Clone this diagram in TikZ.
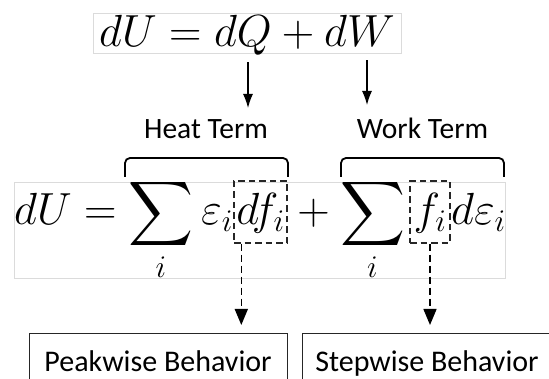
\RequirePackage{fix-cm}
\documentclass[tikz,border=0pt]{standalone}
\usepackage{amsmath}
\DeclareFontShape{OMX}{cmex}{m}{n}{<->cmex10}{}
\usepackage[no-math]{fontspec}
\setmainfont{Carlito}
\usetikzlibrary{arrows.meta}
\begin{document}
\begin{tikzpicture}[x=1pt,y=-1pt,
  eq/.style={font=\fontsize{45}{54}\selectfont, inner sep=0pt},
  lbl/.style={font=\fontsize{29.5}{34}\selectfont, inner sep=0pt},
  graybox/.style={draw=black!14, line width=0.6pt},
  dbox/.style={draw=black!85, line width=1.4pt, dash pattern=on 6.5pt off 4pt, inner sep=0pt, text height=44pt, text depth=18pt},
  bracketline/.style={line width=1.8pt, rounded corners=5pt},
  arr/.style={line width=1.2pt, -{Latex[length=14pt,width=10pt]}},
  darr/.style={line width=1.5pt, dash pattern=on 7pt off 4pt, -{Triangle[length=16pt,width=13pt]}},
  outbox/.style={draw=black!85, line width=0.9pt, inner sep=0pt, font=\fontsize{30}{34}\selectfont, text height=38pt, text depth=22pt}
]
\useasboundingbox (0,0) rectangle (549,379);
\clip (0,0) rectangle (549,379);

% top equation
\node[eq, graybox, minimum width=308pt, text height=34pt, text depth=6pt, anchor=base] (topeq) at (247,47) {$dU = dQ + dW$};

% labels
\node[lbl, anchor=base] (heat) at (206,139) {Heat Term};
\node[lbl, anchor=base] (work) at (422.5,139) {Work Term};

% solid arrows
\coordinate (q1) at (248,108);
\coordinate (q2) at (367,105);
\draw[arr, shorten <=9pt] (topeq.south -| q1) -- (q1);
\draw[arr, shorten <=7pt] (topeq.south -| q2) -- (q2);

% second equation frame
\node[graybox, minimum width=491pt, minimum height=96pt, inner sep=0pt] (eqbox) at (259.5,230) {};

% brackets
\draw[bracketline] (125,177) -- (125,158) -- (288,158) -- (288,177);
\draw[bracketline] (341,177) -- (341,158) -- (504,158) -- (504,177);

% second equation
\node[eq, anchor=base west] (lhs) at (14,225) {$dU =$};
\node[eq, anchor=base] (sumA) at (161,225) {$\displaystyle\sum_i$};
\node[eq, anchor=base west] (epsA) at (201,225) {$\varepsilon_i$};
\node[eq, dbox, minimum width=53pt, anchor=base] (dfbox) at (260.5,225) {$df_i$};
\node[eq, anchor=base] (plus) at (313.5,225) {$+$};
\node[eq, anchor=base] (sumB) at (372.5,225) {$\displaystyle\sum_i$};
\node[eq, dbox, minimum width=40pt, anchor=base] (fbox) at (430,225) {$f_i$};
\node[eq, anchor=base west] (depsB) at (451,225) {$d\varepsilon_i$};

% bottom boxes
\node[outbox, minimum width=258pt, anchor=north] (peak) at (158,333) {Peakwise Behavior};
\node[outbox, minimum width=250pt, anchor=north] (step) at (427,333) {Stepwise Behavior};

% dashed arrows
\coordinate (d1) at ([xshift=8pt]dfbox.south west);
\draw[darr, shorten >=8pt] (d1) -- (d1 |- peak.north);
\draw[darr, shorten >=8pt] (fbox.south) -- (fbox.south |- step.north);
\end{tikzpicture}
\end{document}
